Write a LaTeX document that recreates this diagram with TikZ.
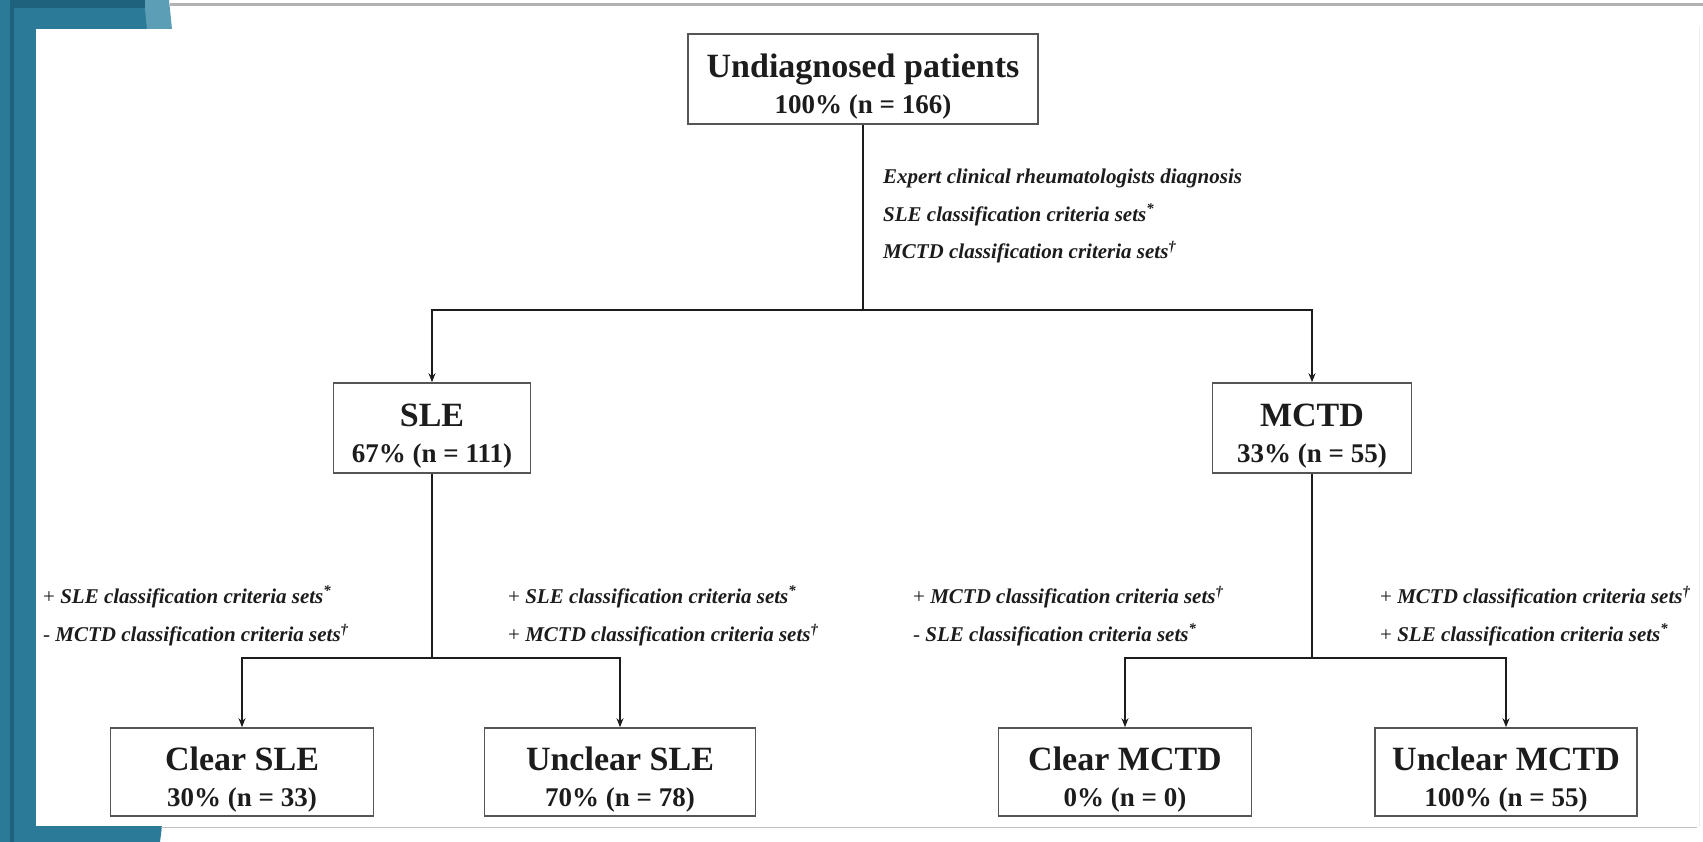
\documentclass[tikz,border=0pt]{standalone}
\usepackage{fontspec}
\setmainfont{Liberation Serif}
\usetikzlibrary{arrows.meta}
\definecolor{tealA}{RGB}{42,122,152}
\definecolor{tealB}{RGB}{30,98,126}
\definecolor{tealC}{RGB}{92,158,182}
\definecolor{ink}{RGB}{28,28,28}
\definecolor{boxgray}{RGB}{85,85,85}
\newcommand{\sgn}[1]{{\upshape\mdseries #1}\ }
\newcommand{\ttl}[1]{{\fontsize{34}{36}\selectfont\rule{0pt}{40pt}#1}}
\newcommand{\sub}[1]{#1\rule[-7pt]{0pt}{7pt}}
\begin{document}
\begin{tikzpicture}[x=1pt,y=-1pt,
  box/.style={draw=boxgray, line width=1.6pt, fill=white, align=center, inner sep=0pt, text=ink,
    font=\fontsize{27}{36}\selectfont\bfseries},
  lab/.style={anchor=west, inner sep=0pt, text=ink, font=\fontsize{21}{21}\selectfont\bfseries\itshape},
  conn/.style={draw=ink, line width=1.8pt},
  arr/.style={conn, -{Stealth[length=9pt,width=7pt]}}]
\useasboundingbox (0,0) rectangle (1703,842);
% frame
\fill[white] (0,0) rectangle (1703,842);
\fill[tealA] (0,0) rectangle (36,842);
\fill[tealA] (0,0) -- (146,0) -- (148,29) -- (0,29) -- cycle;
\fill[tealC] (144,0) -- (169,0) -- (172,29) -- (147,29) -- cycle;
\fill[tealA] (0,826) -- (162,826) -- (160,842) -- (0,842) -- cycle;
\fill[tealB] (10,0) rectangle (14,842);
\fill[tealB] (10,0) rectangle (145,8);
\draw[gray!60, line width=3pt] (170,5) -- (1703,5);
\draw[gray!50, line width=1pt] (161,827.5) -- (1697,827.5);
\draw[gray!15, line width=1pt] (1699,27) -- (1699,827);
% boxes
\node[box, minimum width=350pt, minimum height=90pt] (top) at (863,79)
  {\ttl{Undiagnosed patients}\\\sub{100\% (n = 166)}};
\node[box, minimum width=197pt, minimum height=90pt] (sle) at (432,428)
  {\ttl{SLE}\\\sub{67\% (n = 111)}};
\node[box, minimum width=199pt, minimum height=90pt] (mctd) at (1312,428)
  {\ttl{MCTD}\\\sub{33\% (n = 55)}};
\node[box, minimum width=263pt, minimum height=88pt] (csle) at (242,772)
  {\ttl{Clear SLE}\\\sub{30\% (n = 33)}};
\node[box, minimum width=271pt, minimum height=88pt] (usle) at (620,772)
  {\ttl{Unclear SLE}\\\sub{70\% (n = 78)}};
\node[box, minimum width=253pt, minimum height=88pt] (cmctd) at (1125,772)
  {\ttl{Clear MCTD}\\\sub{0\% (n = 0)}};
\node[box, minimum width=262pt, minimum height=88pt] (umctd) at (1506,772)
  {\ttl{Unclear MCTD}\\\sub{100\% (n = 55)}};
% forks
\coordinate (f1) at (863,310);
\coordinate (f2) at (432,658);
\coordinate (f3) at (1312,658);
\draw[conn] (top.south) -- (f1);
\draw[arr] (f1) -| (sle.north);
\draw[arr] (f1) -| (mctd.north);
\draw[conn] (sle.south) -- (f2);
\draw[arr] (f2) -| (csle.north);
\draw[arr] (f2) -| (usle.north);
\draw[conn] (mctd.south) -- (f3);
\draw[arr] (f3) -| (cmctd.north);
\draw[arr] (f3) -| (umctd.north);
% labels
\node[lab] (e1) at (883,178) {Expert clinical rheumatologists diagnosis};
\node[lab] (e2) at (883,215) {SLE classification criteria sets\textsuperscript{*}};
\node[lab] (e3) at (883,252) {MCTD classification criteria sets\textsuperscript{\textdagger}};
\node[lab] (a1) at (43,597) {\sgn{+}SLE classification criteria sets\textsuperscript{*}};
\node[lab] (a2) at (43,635) {\sgn{-}MCTD classification criteria sets\textsuperscript{\textdagger}};
\node[lab] (b1) at (508,597) {\sgn{+}SLE classification criteria sets\textsuperscript{*}};
\node[lab] (b2) at (508,635) {\sgn{+}MCTD classification criteria sets\textsuperscript{\textdagger}};
\node[lab] (c1) at (913,597) {\sgn{+}MCTD classification criteria sets\textsuperscript{\textdagger}};
\node[lab] (c2) at (913,635) {\sgn{-}SLE classification criteria sets\textsuperscript{*}};
\node[lab] (d1) at (1380,597) {\sgn{+}MCTD classification criteria sets\textsuperscript{\textdagger}};
\node[lab] (d2) at (1380,635) {\sgn{+}SLE classification criteria sets\textsuperscript{*}};
\end{tikzpicture}
\end{document}
